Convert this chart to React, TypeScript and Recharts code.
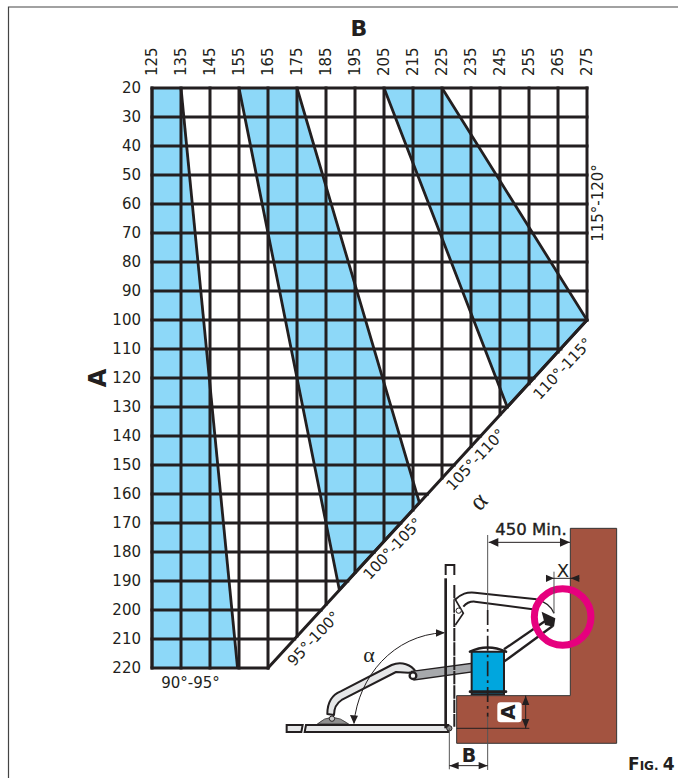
import { ComposedChart, Area, XAxis, YAxis, ReferenceLine } from 'recharts';

const INK = '#231f20';
const BLUE = '#8dd8f8';

const bTicks = [125, 135, 145, 155, 165, 175, 185, 195, 205, 215, 225, 235, 245, 255, 265, 275];
const aTicks = [20, 30, 40, 50, 60, 70, 80, 90, 100, 110, 120, 130, 140, 150, 160, 170, 180, 190, 200, 210, 220];

// where each grid line stops against the diagonal
const columnEnds = [220, 220, 220, 220, 220, 209, 198, 187, 176, 165.5, 154.5, 143.5, 132.5, 122, 111, 100];
const rowEnds = [275, 275, 275, 275, 275, 275, 275, 275, 275, 266, 256.7, 247.5, 238.3, 229.2, 220, 210.8, 201.7, 192.5, 183.3, 174.2, 165];

const band90 = [
  { a: 20, range: [125, 135] },
  { a: 220, range: [125, 154.5] },
];
const band100 = [
  { a: 20, range: [155, 175] },
  { a: 163, range: [183.6, 217.2] },
  { a: 193, range: [189.6, 189.6] },
];
const band110 = [
  { a: 20, range: [205, 225] },
  { a: 100, range: [235.9, 275] },
  { a: 130, range: [247.5, 247.5] },
];

const rotatedLabels = [
  { text: '95°-100°', x: 314, y: 639, angle: -47 },
  { text: '100°-105°', x: 393, y: 549, angle: -47 },
  { text: '105°-110°', x: 476, y: 460, angle: -47 },
  { text: '110°-115°', x: 563, y: 369, angle: -47 },
  { text: '115°-120°', x: 598, y: 203, angle: -90 },
];

const FONT = '"DejaVu Sans", sans-serif';

const XTick = ({ x, payload }: any) => (
  <text x={x + 5} y={76} transform={`rotate(-90 ${x + 5} 76)`} fontSize={15} fontFamily={FONT} fill={INK}>
    {payload.value}
  </text>
);

const YTick = ({ y, payload }: any) => (
  <text x={141} y={y + 5} textAnchor="end" fontSize={15} fontFamily={FONT} fill={INK}>
    {payload.value}
  </text>
);

function Drawing() {
  return (
    <svg width={678} height={778} style={{ position: 'absolute', left: 0, top: 0, pointerEvents: 'none' }} fontFamily={FONT}>
      {/* page frame */}
      <path d="M8.5,778 L8.5,7 L678,7" fill="none" stroke="#444" strokeWidth={1.2} />

      <text x={359} y={36} textAnchor="middle" fontSize={22} fontWeight="bold" fill={INK}>B</text>
      <text x={106} y={378} textAnchor="middle" fontSize={24} fontWeight="bold" fill={INK} transform="rotate(-90 106 378)">A</text>
      <text x={190.5} y={688} textAnchor="middle" fontSize={15} fill={INK}>90°-95°</text>
      {rotatedLabels.map(l => (
        <text key={l.text} x={l.x} y={l.y} textAnchor="middle" dominantBaseline="middle" fontSize={15} fill={INK} transform={`rotate(${l.angle} ${l.x} ${l.y})`}>
          {l.text}
        </text>
      ))}
      <text x={480} y={503} textAnchor="middle" dominantBaseline="middle" fontSize={26} fontFamily="'Liberation Serif', serif" fill={INK} transform="rotate(-47 480 503)">α</text>
      <text x={369} y={662} textAnchor="middle" fontSize={22} fontFamily="'Liberation Serif', serif" fill={INK}>α</text>

      {/* left part of the sketch, 3x coordinates from x=270 y=550 */}
      <g transform="translate(270 550) scale(0.3333)">
        <path d="M50,525 L98,525 L94,546 L50,546 Z M108,525 L535,525 L535,546 L104,546 Z" fill="#e6e7e8" stroke={INK} strokeWidth={6} />
        <path d="M142,522 Q185,482 236,522 Z" fill="#8e8e8e" stroke={INK} strokeWidth={2} />
        <path d="M172,492 C172,455 185,435 212,424 L365,345 C395,332 425,345 437,365 L415,368 L378,366 L215,450 C196,462 192,478 192,495 Z" fill="#e6e7e8" stroke={INK} strokeWidth={6} strokeLinejoin="round" />
        <path d="M425,364 L606,340 L606,366 L432,390 Z" fill="#a7a9ac" stroke={INK} strokeWidth={4} />
        <circle cx={429} cy={377} r={10} fill="#fff" stroke={INK} strokeWidth={7} />
        <circle cx={186} cy={506} r={8} fill="#ccc" stroke={INK} strokeWidth={3} />
        <path d="M252,520 C265,380 370,255 522,248" fill="none" stroke={INK} strokeWidth={3} />
        <path d="M240,495 L252,522 L264,497 Z M498,238 L525,248 L498,260 Z" fill={INK} />
      </g>

      {/* right part of the sketch, 3x coordinates from x=430 y=510 */}
      <g transform="translate(430 510) scale(0.3333)">
        <path d="M421,55 L560,55 L560,700 L80,700 L80,557 L421,557 Z" fill="#a35340" stroke="#333" strokeWidth={3} />
        <path d="M47,205 L47,655" stroke={INK} strokeWidth={8} />
        <path d="M73,225 L73,650" stroke={INK} strokeWidth={6} strokeDasharray="40 3" />
        <path d="M47,195 L47,165 L73,165 L73,195" fill="none" stroke={INK} strokeWidth={6} />
        <circle cx={58} cy={655} r={8} fill="#888" stroke={INK} strokeWidth={3} />

        <path d="M74,270 C95,250 110,246 135,248 L320,268" fill="none" stroke={INK} strokeWidth={6} />
        <path d="M100,290 C110,278 120,274 135,275 L308,298" fill="none" stroke={INK} strokeWidth={6} />
        <path d="M74,265 L100,310 L76,345" fill="#fff" stroke={INK} strokeWidth={5} />
        <circle cx={86} cy={302} r={8} fill="#fff" stroke={INK} strokeWidth={3} />
        <path d="M320,268 C345,275 365,290 372,310" fill="none" stroke={INK} strokeWidth={4} />
        <path d="M222,418 L350,330" stroke={INK} strokeWidth={7} />
        <path d="M222,455 L368,348" stroke={INK} strokeWidth={7} />
        <path d="M335,305 L376,325 L372,350 L345,345 Z" fill={INK} />

        <path d="M125,425 L222,425 L222,553 L125,553 Z" fill="#00a6de" stroke={INK} strokeWidth={6} />
        <path d="M120,425 Q172,400 228,425 M120,545 L228,545" fill="none" stroke={INK} strokeWidth={8} strokeLinecap="round" />

        <path d="M173,75 L173,300" stroke="#555" strokeWidth={3} />
        <path d="M173,300 L173,620" stroke={INK} strokeWidth={5} strokeDasharray="45 12 8 12" />
        <path d="M173,620 L173,780" stroke="#555" strokeWidth={3} />

        <circle cx={398} cy={321} r={85} fill="none" stroke="#e6007e" strokeWidth={21} />

        <path d="M372,185 L372,310" stroke="#555" strokeWidth={3} />
        <path d="M348,205 L372,205 M420,205 L448,205 M372,205 L420,205" stroke={INK} strokeWidth={3} />
        <path d="M348,194 L372,205 L348,216 Z M448,194 L422,205 L448,216 Z" fill={INK} />

        <path d="M176,97 L420,97" stroke={INK} strokeWidth={3} />
        <path d="M205,84 L176,97 L205,110 Z M390,84 L420,97 L390,110 Z" fill={INK} />

        <path d="M80,655 L298,655" stroke={INK} strokeWidth={3} />
        <path d="M287,557 L287,655" stroke={INK} strokeWidth={3} />
        <path d="M276,585 L287,557 L298,585 Z M276,627 L287,655 L298,627 Z" fill={INK} />
        <rect x={202} y={577} width={73} height={60} rx={10} fill="#fff" />

        <path d="M58,655 L58,778" stroke="#555" strokeWidth={3} />
        <path d="M58,767 L173,767" stroke={INK} strokeWidth={3} />
        <path d="M86,756 L58,767 L86,778 Z M146,756 L173,767 L146,778 Z" fill={INK} />
      </g>

      <text x={531} y={535} textAnchor="middle" fontSize={16.5} stroke={INK} strokeWidth={0.4} fill={INK}>450 Min.</text>
      <text x={563} y={577} textAnchor="middle" fontSize={18} fill={INK}>X</text>
      <text x={509} y={712} textAnchor="middle" dominantBaseline="middle" fontSize={20} fontWeight="bold" fill={INK} transform="rotate(-90 509 712)">A</text>
      <text x={469} y={762} textAnchor="middle" fontSize={19} fontWeight="bold" fill={INK}>B</text>
      <text x={628} y={770} fontWeight="bold" fill={INK}>
        <tspan fontSize={17}>F</tspan>
        <tspan fontSize={12}>IG. </tspan>
        <tspan fontSize={17}>4</tspan>
      </text>
    </svg>
  );
}

export default function App() {
  return (
    <div style={{ position: 'absolute', left: 0, top: 0, width: 678, height: 778, background: '#fff' }}>
      <ComposedChart
        layout="vertical"
        width={678}
        height={778}
        margin={{ top: 58, right: 91, bottom: 110, left: 112 }}
      >
        <XAxis
          type="number"
          orientation="top"
          domain={[125, 275]}
          ticks={bTicks}
          interval={0}
          height={30}
          axisLine={false}
          tickLine={false}
          tick={XTick}
        />
        <YAxis
          type="number"
          dataKey="a"
          domain={[20, 220]}
          ticks={aTicks}
          interval={0}
          width={40}
          axisLine={false}
          tickLine={false}
          tick={YTick}
        />
        <Area data={band90} dataKey="range" type="linear" fill={BLUE} fillOpacity={1} stroke={INK} strokeWidth={2.8} isAnimationActive={false} dot={false} activeDot={false} />
        <Area data={band100} dataKey="range" type="linear" fill={BLUE} fillOpacity={1} stroke={INK} strokeWidth={2.8} isAnimationActive={false} dot={false} activeDot={false} />
        <Area data={band110} dataKey="range" type="linear" fill={BLUE} fillOpacity={1} stroke={INK} strokeWidth={2.8} isAnimationActive={false} dot={false} activeDot={false} />
        {bTicks.map((b, i) => (
          <ReferenceLine key={`col-${b}`} segment={[{ x: b, y: 20 }, { x: b, y: columnEnds[i] }]} stroke={INK} strokeWidth={3} strokeLinecap="square" />
        ))}
        {aTicks.map((a, i) => (
          <ReferenceLine key={`row-${a}`} segment={[{ x: 125, y: a }, { x: rowEnds[i], y: a }]} stroke={INK} strokeWidth={3} strokeLinecap="square" />
        ))}
        <ReferenceLine segment={[{ x: 165, y: 220 }, { x: 275, y: 100 }]} stroke={INK} strokeWidth={3} strokeLinecap="round" />
      </ComposedChart>
      <Drawing />
    </div>
  );
}
